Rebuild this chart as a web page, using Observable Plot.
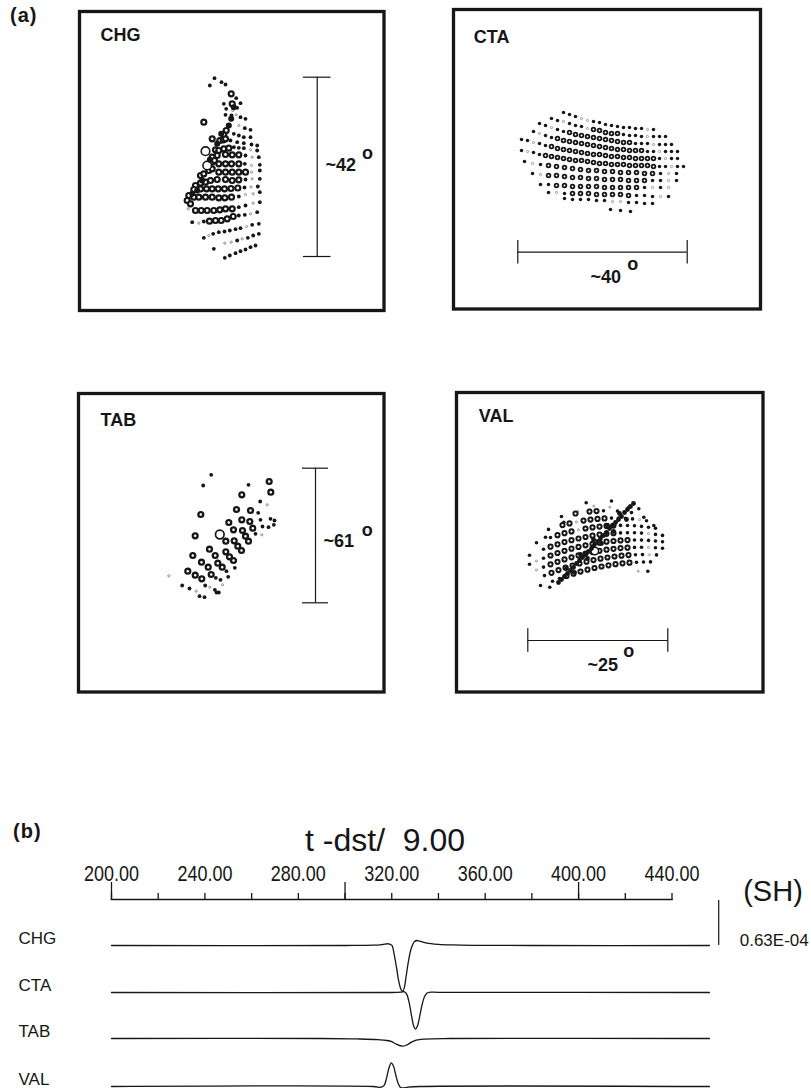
<!DOCTYPE html>
<html><head><meta charset="utf-8">
<script src="https://cdn.jsdelivr.net/npm/d3@7"></script>
<script src="https://cdn.jsdelivr.net/npm/@observablehq/plot@0.6"></script>
<style>
html,body{margin:0;padding:0;background:#fff;}
#fig{position:relative;width:811px;height:1088px;overflow:hidden;font-family:"Liberation Sans",Arial,Helvetica,sans-serif;color:#161616;}
.abs{position:absolute;white-space:pre;line-height:1;}
</style></head><body><div id="fig"></div>
<script>
// ---------- DATA ----------
// Panel (a): grid points, [x, y, kind] in map units measured from each frame's top-left corner.
// kind: f = small filled dot, s = small grey circle, o = ring, O = large open circle, b = bold dot
const chgDots = [
[135,66.7,"f"],[130.3,74,"f"],[142,70.7,"f"],[146,73,"f"],[151.7,82.3,"o"],[156.7,86.7,"f"],[144.3,92.3,"f"],[152.7,92.3,"o"],[161,91.7,"f"],[157.7,96.3,"f"],[146.7,97.3,"f"],[153.3,99,"s"],[146,103.3,"f"],[152,104,"f"],[156.7,103.3,"s"],[151.7,107.3,"b"],[161,105.7,"f"],[166,107.3,"f"],[124.3,110.7,"o"],[149.3,114,"b"],[159.3,114,"s"],[165.3,116.7,"f"],[171,118.3,"f"],[146.7,119,"o"],[144.3,123.3,"o"],[154.3,122.3,"f"],[159.3,124,"f"],[164.3,125.7,"f"],[171,125.7,"f"],
[132.7,127.3,"o"],[140.3,129,"o"],[143.7,128.3,"o"],[146,127.3,"o"],[151,129,"f"],[157.7,130.7,"f"],[164.3,131.7,"f"],[172,133,"f"],[177.7,134,"f"],
[126,139.7,"O"],[136,138.3,"o"],[139.3,139,"o"],[144.3,137.3,"o"],[149.3,136.7,"o"],[154.3,135.7,"f"],[159.3,136.3,"f"],[164.3,136.7,"f"],[171,138.3,"s"],[177.7,139,"f"],
[132.7,145.7,"o"],[137.7,144,"o"],[146,143,"o"],[152.7,143.3,"o"],[159.3,143.3,"o"],[166,144,"f"],[172.7,145.7,"s"],[179.3,145.7,"f"],
[127.7,154,"O"],[132.7,150.7,"o"],[135,149,"o"],[139.3,152.3,"o"],[146,152.3,"o"],[152,152.3,"o"],[159.3,152.3,"o"],[165.3,152.3,"f"],[172,154,"s"],[180.3,153.3,"f"],
[121,164,"o"],[124.3,162.3,"o"],[129.3,159,"o"],[132.7,157.3,"o"],[139.3,160.7,"o"],[146,160.7,"o"],[152.7,160.7,"o"],[159.3,160.7,"o"],[166,160.7,"o"],[172,160.7,"s"],[180.3,159,"f"],
[116,174,"o"],[121,171.7,"o"],[126,170.7,"o"],[131,169,"o"],[137.7,168,"o"],[146,168,"o"],[152.7,169,"o"],[159.3,168.3,"o"],[166,168,"f"],[172.7,167.3,"s"],[180.3,167.3,"f"],
[114.3,178,"o"],[121,177.5,"o"],[127,177.3,"o"],[132.7,177.3,"o"],[138.7,177.3,"o"],[145,177.3,"o"],[151.5,177,"o"],[158.3,176.5,"o"],[165,176,"f"],[171.5,175.5,"s"],[178.3,175,"f"],
[109.3,184,"o"],[114.3,185.7,"o"],[119.3,185.7,"o"],[126,185.7,"o"],[132.7,185.7,"o"],[139.3,186.3,"o"],[145.3,186.3,"o"],[152,185.7,"o"],[159.3,185,"f"],[166,183,"s"],[173.7,182.3,"s"],[180.3,180.7,"f"],
[107.7,189,"o"],[111,192.3,"o"],[108.7,197.3,"s"],[116,199,"o"],[121.7,199,"o"],[127.7,199,"o"],[134.3,199,"o"],[140.3,198.3,"o"],[146,197.3,"o"],[152.7,197.3,"o"],[159.3,195.7,"f"],[166,194,"f"],[173.7,191.7,"s"],[180.3,190.7,"f"],
[112.7,210.7,"f"],[119.3,211.7,"s"],[124.3,210,"f"],[130,209.7,"o"],[136,209,"o"],[141.7,209,"o"],[147.7,207.3,"o"],[153.7,205,"o"],[159.3,204,"f"],[165.3,203.3,"f"],[171,202.3,"s"],[177.7,200.7,"f"],
[124.3,226.3,"f"],[129.3,224,"s"],[133.7,222.3,"f"],[139.3,220.7,"f"],[145,220,"f"],[150.3,219,"f"],[156,217.7,"f"],[161,216.7,"f"],[167,215,"s"],[172.7,213.3,"f"],[179.3,212.3,"f"],
[134.3,237.3,"f"],[145.3,231.7,"s"],[151.7,230.7,"s"],[157.7,229,"f"],[162.7,227.3,"s"],[168.3,226.3,"f"],[173.7,224,"f"],[179.3,222.3,"f"],
[145.3,246.3,"f"],[150.3,244,"f"],[156,241.7,"f"],[161,239.7,"f"],[166,238,"f"],[171,235.7,"f"],[176,234,"f"],
[154.3,95.7,"b"],[141.7,122.3,"b"],[137.7,132.3,"b"],[130.3,148.3,"b"],[122.7,169,"b"],[117.7,179,"b"],[112.7,182.3,"b"]
];

const ctaRows = [
{x:[110,116,122,128,134,140,146,152,158,164,170,176,182,188,194,200],
 y:[103,105,107,109,111,112,113,115,116,117,118,118,119,119,120,120], k:"fffssfffffffffsf"},
{x:[98,104,110,116,122,128,134,140,146,152,158,164,170,176,182,188,194,200,206,212],
 y:[109,111,112,114,116,117,119,120,121,123,124,124,125,126,126,127,127,127,127,127], k:"ffsfffsoooooffffsfff"},
{x:[86,92,98,104,110,116,122,128,134,140,146,152,158,164,170,176,182,188,194,200,206,212,218],
 y:[114,116,118,120,122,123,125,126,127,128,129,130,131,132,133,133,134,134,134,135,135,135,135], k:"ffsff"+"ooooooooooo"+"fffsfff"},
{x:[80,86,92,98,104,110,116,122,128,134,140,146,152,158,164,170,176,182,188,194,200,206,212,218,224],
 y:[122,124,126,128,129,131,132,133,134,135,136,137,138,139,140,140,141,141,141,142,142,142,142,142,142], k:"fsff"+"ooooo"+"ooooo"+"ooooo"+"ffsfff"},
{x:[68,74,80,86,92,98,104,110,116,122,128,134,140,146,152,158,164,170,176,182,188,194,200,206,212,218,224],
 y:[130,131,133,134,136,137,139,140,141,142,143,144,145,145,146,147,147,148,148,149,149,149,149,149,149,149,149], k:"ffsff"+"ooooooooo"+"ooooooooo"+"fsff"},
{x:[68,74,80,86,92,98,104,110,116,122,128,134,140,146,152,158,164,170,176,182,188,194,200,206,212,218,224,230],
 y:[141,142,143,145,146,147,148,149,150,151,151,152,153,154,154,155,155,155,156,156,156,156,157,157,157,157,157,157], k:"fsff"+"oooooooooo"+"ooooooooo"+"ffsff"},
{x:[71,79,87,95,103,111,119,127,135,143,151,159,167,175,183,191,199,207,215,223],
 y:[152,154,155,156,157,158,159,160,161,161,162,162,163,163,163,164,164,164,164,164], k:"fsf"+"ooooooo"+"ooooooo"+"fsf"},
{x:[79,87,95,103,111,119,127,135,143,151,159,167,175,183,191,199,207,215,223],
 y:[164,165,166,166,167,168,168,169,169,170,170,170,171,171,171,171,171,171,171], k:"fs"+"ooooooooooooo"+"ffsf"},
{x:[87,95,103,111,119,127,135,143,151,159,167,175,183,191,199,207,215],
 y:[175,175,176,176,177,177,177,177,178,178,178,178,178,178,178,178,178], k:"ff"+"ooooooooooo"+"fsfs"},
{x:[95,103,111,119,127,135,143,151,159,167,175,183,191,199,207,215],
 y:[183,183,184,184,184,184,185,185,185,185,186,186,186,187,187,187], k:"fsf"+"oooooooo"+"fffsf"},
{x:[111,119,127,135,143,151,159,167,175,183,191,199],
 y:[189,190,190,190,191,191,192,192,193,193,194,194], k:"ffffffssffff"},
{x:[157,167,177], y:[200,201,202], k:"fff"}
];

const tabDots = [
[132.7,81.3,"f"],[124.7,92,"f"],[170,91.3,"f"],[190.7,88,"o"],[192.3,98.7,"o"],[163.3,101.3,"o"],[181.7,108,"f"],[188.7,111.3,"s"],
[122.3,121,"o"],[158,116,"o"],[172,117,"o"],[179.7,119.3,"f"],[150.3,129,"o"],[163.3,126.3,"o"],[171.3,128,"o"],[182,126.3,"f"],[192,125.3,"f"],[196,127,"f"],
[184,133,"f"],[190,133.7,"f"],[195.3,131.3,"f"],[155,136.3,"o"],[164,137,"o"],[174.3,134.7,"o"],[177,140.3,"f"],[183.3,141.3,"s"],
[116.7,142.3,"o"],[141.3,141,"O"],[147.3,147.7,"o"],[155.7,147.3,"o"],[167,142.7,"o"],[159.3,152.7,"o"],[163,157,"o"],[170,147.7,"o"],
[131,155.7,"o"],[136.7,162,"o"],[147.3,158.3,"o"],[151,163.3,"o"],[155,167,"o"],[114.3,162,"o"],[123,168.7,"o"],[129.7,173.7,"o"],[139.3,169.7,"o"],[143.7,173.7,"o"],
[156.3,174.3,"f"],[148,177.7,"f"],[109.3,177.7,"o"],[116.7,181.7,"o"],[123.3,185.3,"o"],[132.7,181,"o"],[137.3,184.3,"f"],[142,186.3,"f"],[149.7,183.3,"f"],
[90.3,182.3,"s"],[103.7,192,"f"],[111,195,"f"],[117.7,197.7,"s"],[126.7,192,"f"],[131.3,193.7,"s"],[136.3,196.3,"f"],[144,191.3,"s"],[138,199,"f"],[140.3,199,"f"],[121,202.7,"f"],[126,203.7,"f"]
];

const valRows = [
{x:[105,119,133,140,147,161,168,175], y:[124,121,119.1,118.6,118.3,118.6,119.2,120.1], k:"foooffsf"},
{x:[92,106,113,120,127,134,141,148,155,162,169,176,183,190],
 y:[136.9,132.6,130.9,129.4,128.1,127.1,126.4,125.9,125.6,125.6,125.9,126.4,127.2,128.3], k:"foosooooffffsf"},
{x:[80,94,101,108,115,122,129,136,143,150,157,164,171,178,185,192,199],
 y:[150.2,145.0,142.7,140.7,138.9,137.3,136.0,134.9,134.1,133.4,133.1,132.9,133.0,133.3,133.9,134.7,135.7], k:"ffooosoooooffffff"},
{x:[73,87,94,101,108,115,122,129,136,143,150,157,164,171,178,185,192,199,206],
 y:[162.7,156.8,154.2,151.8,149.6,147.7,146.0,144.5,143.2,142.1,141.3,140.7,140.4,140.2,140.3,140.6,141.1,141.9,142.9], k:"ffooooooooooffffsff"},
{x:[73,80,87,94,101,108,115,122,129,136,143,150,157,164,171,178,185,192,199,206],
 y:[171.8,168.6,165.7,163.0,160.5,158.3,156.2,154.4,152.8,151.4,150.2,149.2,148.5,147.9,147.6,147.5,147.6,147.9,148.5,149.2], k:"fsfoooooooooooofffff"},
{x:[80,87,94,101,108,115,122,129,136,143,150,157,164,171,178,185,192,199,206],
 y:[177.5,174.6,171.8,169.3,166.9,164.8,162.9,161.2,159.6,158.3,157.2,156.3,155.6,155.2,154.9,154.8,154.9,155.3,155.8], k:"sfooooooooooooffsff"},
{x:[88,95,102,109,116,123,130,137,144,151,158,165,172,179,186,193,200],
 y:[183.1,180.3,177.6,175.2,173.0,171.0,169.2,167.6,166.2,165.0,164.0,163.2,162.6,162.3,162.1,162.2,162.4], k:"fooooooooooooffsf"},
{x:[96,103,110,117,124,131,138,145,152,159,166,173,180,187,194],
 y:[188.8,186.0,183.5,181.2,179.1,177.2,175.5,174.0,172.8,171.7,170.8,170.2,169.7,169.5,169.4], k:"ffoooooooooofff"}
];
const valExtra = [
[129.7,110.3,"f"],[137.3,113.7,"s"],[153.3,114.7,"s"],[121.3,119,"s"],[155,108.5,"f"],[172.3,114.7,"f"],[182.3,116.3,"f"],[187.3,124.7,"f"],[197.3,133,"f"],[107.3,129.7,"f"],[89,144.7,"f"],
[84,193,"f"],[93.3,194.7,"f"],[181.7,178.7,"s"],[191.3,178.7,"f"],[138.3,158.5,"O"],
[102,190,"b"],[105,187,"b"],[108,184,"b"],[111,181,"b"],[114,178,"b"],[117,175,"b"],[120,171,"b"],[123,168,"b"],[126,165,"b"],[129,162,"b"],[132,159,"b"],[135,156,"b"],[138,152,"b"],[141,149,"b"],[144,146,"b"],[147,143,"b"],[150,140,"b"],[153,136,"b"],[156,133,"b"],[159,130,"b"],[162,127,"b"],[165,124,"b"],[168,120,"b"],[171,117,"b"],[174,114,"b"],[177,111,"b"],
[110,176,"b"],[118,180,"b"],[124,162,"b"],[131,166,"b"],[137,147,"b"],[145,151,"b"],[151,133,"b"],[157,139,"b"],[163,121,"b"],[170,127,"b"]
];

// Scale bars of panel (a), in the same map units
const scaleBars = [
 {panel:"CHG", dir:"v", at:237.7, from:65.7, to:245,   cap:13.8, label:"~42", lx:246, ly:159,   ox:288,   oy:142},
 {panel:"CTA", dir:"h", at:242.7, from:64.3, to:233.7, cap:11.7, label:"~40", lx:137, ly:273.7, ox:179.3, oy:255},
 {panel:"TAB", dir:"v", at:237,   from:74.7, to:209.3, cap:13,   label:"~61", lx:245, ly:153.7, ox:288.7, oy:136.7},
 {panel:"VAL", dir:"h", at:248,   from:71.3, to:211.3, cap:11.7, label:"~25", lx:131, ly:278,   ox:172.3, oy:258.7}
];

// Panel (b): SH traces, [time (s), amplitude (x1E-04)]
const stations = ["CHG","CTA","TAB","VAL"];
const traceOffset = [0, -0.658, -1.302, -1.974];
const chgTrace = [[200,0],[300,0],[312,0.004],[316,0.014],[318.5,0.024],[320,0.006],[321,-0.12],[322,-0.3],[323,-0.5],[324,-0.62],[324.6,-0.644],[325.3,-0.6],[326.2,-0.42],[327,-0.25],[328,-0.08],[328.8,0],[329.6,0.05],[330.6,0.07],[332,0.06],[335,0.033],[340,0.016],[346,0.008],[355,0.003],[380,0],[456,0]];
const ctaTrace = [[200,0],[320,0],[324,0.005],[325.5,0.01],[326.5,-0.03],[327.5,-0.15],[328.5,-0.33],[329.5,-0.48],[330.2,-0.514],[331,-0.47],[332,-0.33],[333,-0.17],[334,-0.06],[335,-0.01],[336,0.003],[340,0.002],[456,0]];
const tabTrace = [[200,0],[290,0],[305,-0.006],[314,-0.015],[318,-0.028],[320,-0.045],[322,-0.08],[324.5,-0.108],[326.5,-0.09],[328.5,-0.05],[330.5,-0.022],[334,-0.008],[345,0],[456,0]];
const valTrace = [[200,0],[312,0],[315.5,-0.01],[316.8,0.02],[317.8,0.12],[318.8,0.26],[319.8,0.332],[320.8,0.28],[321.8,0.15],[322.8,0.04],[323.8,-0.015],[325,-0.02],[327,-0.01],[332,0],[456,0]];
const majorTicks = [200,300,400];
const minorTicks = [200,220,240,260,280,300,320,340,360,380,400,420,440];
const labelTicks = [200,240,280,320,360,400,440];
const ampBar = {t:460, amp:0.63, label:"0.63E-04", comp:"(SH)"};

// ---------- DRAWING ----------
const INK = "#161616", GREY = "#858585";
const FONT = '"Liberation Sans", Arial, Helvetica, sans-serif';
const fig = document.getElementById("fig");
const rowsToDots = rows => rows.flatMap(r => r.x.map((x, i) => [x, r.y[i], r.k[i]]));

const panels = [
 {name:"CHG", x0:79,  y0:11,  w:304.5, h:299,   nameDx:21, nameDy:29.7, dots: chgDots,
  sizes:{s:[1.1,0.9], f:[1.9], o:[2.5,2.2], O:[4.3,1.6], b:[3.0]}},
 {name:"CTA", x0:453, y0:9,   w:307,   h:299.5, nameDx:20.3, nameDy:33.3, dots: rowsToDots(ctaRows),
  sizes:{s:[1.1,0.8], f:[1.75], o:[1.85,1.8]}},
 {name:"TAB", x0:78,  y0:393, w:305.5, h:298.5, nameDx:22, nameDy:32.7, dots: tabDots,
  sizes:{s:[1.1,0.9], f:[1.9], o:[2.45,2.3], O:[4.3,1.7]}},
 {name:"VAL", x0:456, y0:392, w:306.5, h:299.5, nameDx:22.3, nameDy:29.7, dots: rowsToDots(valRows).concat(valExtra),
  sizes:{s:[1.05,0.8], f:[1.8], o:[2.1,1.95], O:[3.8,1.5], b:[2.4]}}
];

function dotMarks(dots, sz) {
  return ["s","f","o","O","b"].filter(k => sz[k]).map(k => {
    const [r, sw] = sz[k];
    const sel = dots.filter(d => d[2] === k);
    const st = (k === "f" || k === "b") ? {fill: INK, stroke: "none"}
             : k === "s" ? {fill: "none", stroke: GREY, strokeWidth: sw}
             : {fill: "white", stroke: INK, strokeWidth: sw};
    return Plot.dot(sel, {x: d => d[0], y: d => d[1], r, ...st});
  });
}

function dotPanel(p) {
  const M = 4;
  const bar = scaleBars.find(b => b.panel === p.name);
  const rule = {stroke: INK, strokeWidth: 1.2};
  const marks = [
    Plot.frame({stroke: INK, strokeWidth: 3.3}),
    Plot.text([p.name], {text: d => d, frameAnchor: "top-left", dx: p.nameDx, dy: p.nameDy,
      textAnchor: "start", lineAnchor: "bottom", fontSize: 18, fontWeight: "bold", fill: INK})
  ];
  if (bar.dir === "v") {
    marks.push(Plot.ruleX([bar], {x: "at", y1: "from", y2: "to", ...rule}));
    marks.push(Plot.ruleY([bar.from, bar.to], {y: d => d, x1: () => bar.at - bar.cap, x2: () => bar.at + bar.cap, ...rule}));
  } else {
    marks.push(Plot.ruleY([bar], {y: "at", x1: "from", x2: "to", ...rule}));
    marks.push(Plot.ruleX([bar.from, bar.to], {x: d => d, y1: () => bar.at - bar.cap, y2: () => bar.at + bar.cap, ...rule}));
  }
  marks.push(Plot.text([bar], {x: "lx", y: "ly", text: "label", textAnchor: "start", lineAnchor: "bottom",
    fontSize: 18, fontWeight: "bold", fill: INK}));
  marks.push(Plot.text([bar], {x: "ox", y: "oy", text: () => "o", textAnchor: "middle", lineAnchor: "middle",
    fontSize: 18, fontWeight: "bold", fill: INK}));
  marks.push(...dotMarks(p.dots, p.sizes));
  const svg = Plot.plot({
    width: p.w + 2 * M, height: p.h + 2 * M, margin: M,
    x: {domain: [0, p.w], axis: null},
    y: {domain: [0, p.h], reverse: true, axis: null},
    style: {background: "transparent", fontFamily: FONT, color: INK, overflow: "visible"},
    marks
  });
  svg.style.position = "absolute";
  svg.style.left = (p.x0 - M) + "px";
  svg.style.top = (p.y0 - M) + "px";
  fig.appendChild(svg);
}
panels.forEach(dotPanel);

// Panel (b)
const traces = {CHG: chgTrace, CTA: ctaTrace, TAB: tabTrace, VAL: valTrace};
const traceRows = stations.flatMap((s, i) => traces[s].map(([t, a]) => ({s, t, y: traceOffset[i] + a})));
const wave = Plot.plot({
  width: 811, height: 288,
  marginLeft: 111, marginRight: 139.5, marginTop: 99, marginBottom: 0,
  x: {domain: [200, 440], label: null},
  y: {domain: [-2.002, 0.644], axis: null},
  style: {background: "transparent", fontFamily: FONT, color: INK, overflow: "visible"},
  marks: [
    Plot.frame({anchor: "top", stroke: INK, strokeWidth: 1.3}),
    Plot.axisX({anchor: "top", ticks: majorTicks, tickSize: 18, tickFormat: () => "", strokeWidth: 1.3, label: null}),
    Plot.axisX({anchor: "top", ticks: minorTicks, tickSize: 7, tickFormat: () => "", strokeWidth: 1.3, label: null}),
    Plot.axisX({anchor: "top", ticks: labelTicks, tickSize: 0, tickPadding: 19, tickFormat: d => d.toFixed(2), fontSize: 22, label: null}),
    Plot.line(traceRows, {x: "t", y: "y", z: "s", curve: "catmull-rom", stroke: INK, strokeWidth: 1.3}),
    Plot.text(stations, {text: d => d, frameAnchor: "left", y: (d, i) => traceOffset[i], dx: -93, dy: -1.5,
      textAnchor: "start", lineAnchor: "bottom", fontSize: 17, fill: INK}),
    Plot.ruleX([ampBar], {x: "t", y1: () => 0, y2: "amp", stroke: INK, strokeWidth: 1.2}),
    Plot.text([ampBar], {x: "t", y: () => 0, text: "label", dx: 21, textAnchor: "start", lineAnchor: "bottom", fontSize: 17, fill: INK}),
    Plot.text([ampBar], {x: "t", y: "amp", text: "comp", dx: 24.5, textAnchor: "start", lineAnchor: "bottom", fontSize: 29, fill: INK})
  ]
});
wave.style.position = "absolute";
wave.style.left = "0px";
wave.style.top = "800px";
fig.appendChild(wave);
d3.select(wave).selectAll('g[aria-label="x-axis tick label"] text')
  .attr("textLength", 55).attr("lengthAdjust", "spacingAndGlyphs");

// Figure labels and title (HTML text)
function label(text, left, baseline, size, weight) {
  const el = document.createElement("div");
  el.className = "abs";
  el.textContent = text;
  el.style.left = left + "px";
  el.style.top = (baseline - 0.8465 * size) + "px";
  el.style.fontSize = size + "px";
  el.style.fontWeight = weight;
  fig.appendChild(el);
  return el;
}
label("(a)", 10, 22, 20, "bold").style.letterSpacing = "1px";
label("(b)", 13, 837.5, 20, "bold").style.letterSpacing = "1px";
label("t -dst/  9.00", 305, 851, 32, "normal");
</script></body></html>
